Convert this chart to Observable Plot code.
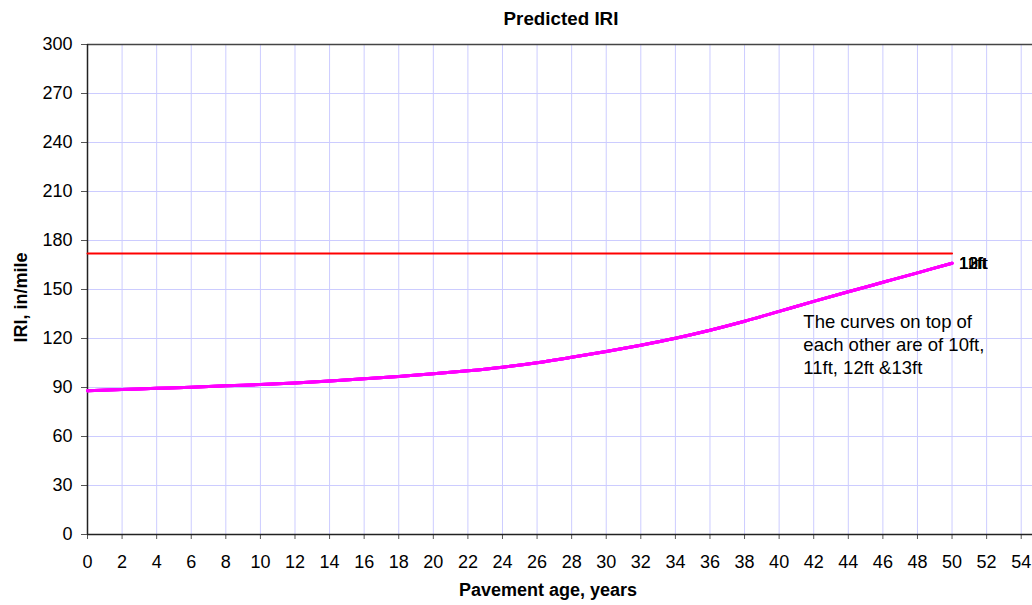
<!DOCTYPE html>
<html>
<head>
<meta charset="utf-8">
<script src="https://cdn.jsdelivr.net/npm/d3@7"></script>
<script src="https://cdn.jsdelivr.net/npm/@observablehq/plot@0.6"></script>
<style>
  html, body { margin: 0; padding: 0; background: #fff; overflow: hidden; }
</style>
</head>
<body>
<div id="chart"></div>
<script>
// ---- data ----
const years = [0, 2, 4, 6, 8, 10, 12, 14, 16, 18, 20, 22, 24, 26, 28, 30, 32, 34, 36, 38, 40, 42, 44, 46, 48, 50];
const iri   = [88.0, 88.8, 89.5, 90.2, 91.0, 91.8, 92.8, 94.0, 95.3, 96.8, 98.4, 100.2, 102.4, 105.2, 108.5, 112.0, 115.9, 120.2, 125.1, 130.6, 136.6, 142.7, 148.6, 154.4, 160.2, 166.1];
const curveLabels = ["10ft", "11ft", "12ft", "13ft"];
const thresholdYears = [0, 50];
const thresholdIRI = [172, 172];
const xTicks = [0, 2, 4, 6, 8, 10, 12, 14, 16, 18, 20, 22, 24, 26, 28, 30, 32, 34, 36, 38, 40, 42, 44, 46, 48, 50, 52, 54];
const yTicks = [0, 30, 60, 90, 120, 150, 180, 210, 240, 270, 300];
const titleText = "Predicted IRI";
const xLabel = "Pavement age, years";
const yLabel = "IRI, in/mile";
const noteText = "The curves on top of\neach other are of 10ft,\n11ft, 12ft &13ft";
const notePos = {year: 41.4, iri: 136.5};

// ---- tables built from the arrays ----
const curveRows = curveLabels.flatMap(label => years.map((y, i) => ({year: y, iri: iri[i], label})));
const thresholdRows = thresholdYears.map((y, i) => ({year: y, iri: thresholdIRI[i]}));

const font = "'Liberation Sans', Arial, Helvetica, sans-serif";

const chart = Plot.plot({
  width: 1032,
  height: 605,
  marginLeft: 87,
  marginRight: -6,
  marginTop: 44,
  marginBottom: 71,
  style: {fontFamily: font, fontSize: "18px", color: "#000", background: "#fff"},
  x: {domain: [0, 55]},
  y: {domain: [0, 300]},
  marks: [
    Plot.gridX(xTicks.filter(d => d > 0), {stroke: "#ccccff", strokeOpacity: 1, strokeWidth: 1}),
    Plot.gridY(yTicks.filter(d => d > 0 && d < 300), {stroke: "#ccccff", strokeOpacity: 1, strokeWidth: 1}),
    Plot.ruleY([300], {stroke: "#444", strokeWidth: 1.5}),
    Plot.axisX(xTicks, {tickSize: 5, tickPadding: 16, label: null, stroke: "#555", fill: "#000", fontSize: 18}),
    Plot.axisY(yTicks, {tickSize: 6, tickPadding: 9, label: null, stroke: "#555", fill: "#000", fontSize: 18}),
    Plot.ruleX([0], {stroke: "#222", strokeWidth: 1.5}),
    Plot.ruleY([0], {stroke: "#222", strokeWidth: 1.5}),
    Plot.line(thresholdRows, {x: "year", y: "iri", stroke: "#ff0000", strokeWidth: 2}),
    Plot.line(curveRows, {x: "year", y: "iri", z: "label", stroke: "#ff00ff", strokeWidth: 3, curve: "catmull-rom"}),
    Plot.text(curveRows, Plot.selectLast({x: "year", y: "iri", z: "label", text: "label", textAnchor: "start", lineAnchor: "middle", dx: 7, fontSize: 17, fill: "#000"})),
    Plot.text([noteText], {x: () => notePos.year, y: () => notePos.iri, text: d => d, textAnchor: "start", lineAnchor: "top", lineHeight: 1.25, fontSize: 18.5, fill: "#000"}),
    Plot.text([titleText], {frameAnchor: "top", textAnchor: "middle", lineAnchor: "middle", dy: -26, dx: -2, fontWeight: "bold", fontSize: 18.8, fill: "#000"}),
    Plot.text([xLabel], {frameAnchor: "bottom", textAnchor: "middle", lineAnchor: "middle", dy: 56, dx: -15, fontWeight: "bold", fontSize: 18, fill: "#000"}),
    Plot.text([yLabel], {frameAnchor: "left", textAnchor: "middle", lineAnchor: "middle", rotate: -90, dx: -66, dy: 8, fontWeight: "bold", fontSize: 18, fill: "#000"})
  ]
});
document.getElementById("chart").append(chart);
</script>
</body>
</html>
